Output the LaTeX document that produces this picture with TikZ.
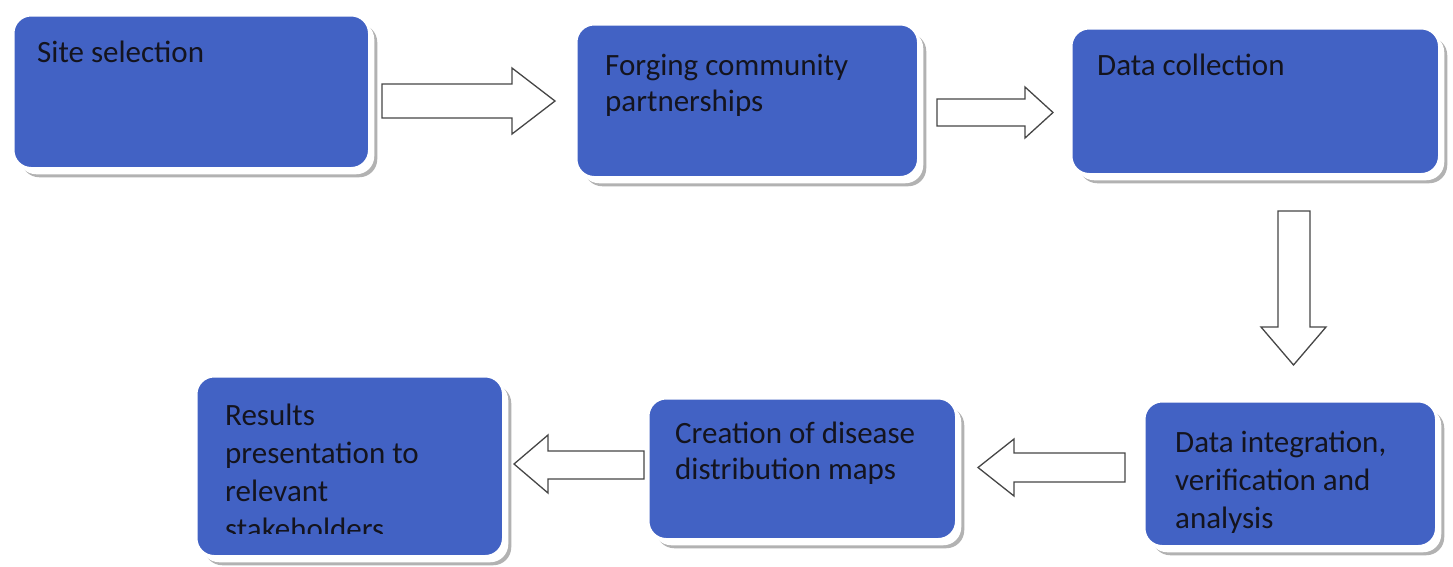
\documentclass[tikz,border=0pt]{standalone}
\usepackage{fontspec}
\setmainfont{Carlito}
\usetikzlibrary{shadows}
\definecolor{boxblue}{RGB}{66,98,196}
\definecolor{arrowline}{RGB}{70,70,70}
\definecolor{textdark}{RGB}{20,20,30}
\newcommand{\steplines}[1]{\parbox[t]{330pt}{\fontsize{31}{38}\selectfont\raggedright #1}}
\begin{document}
\begin{tikzpicture}[x=1pt,y=-1pt,
  stepbox/.style={rounded corners=18pt, fill=boxblue, draw=white, line width=2.5pt,
    anchor=north west, inner sep=0pt,
    general shadow={fill=black!30, shadow xshift=8pt, shadow yshift=-9pt},
    general shadow={fill=white, shadow xshift=5pt, shadow yshift=-6pt}},
  steptext/.style={anchor=base west, inner sep=0pt, text=textdark},
  blockarrow/.style={draw=arrowline, fill=white, line width=1.3pt, line join=miter}]
\useasboundingbox[fill=white] (0,0) rectangle (1453,566);

% boxes
\node[stepbox, minimum width=356pt, minimum height=153pt] (b1) at (12,14) {};
\node[stepbox, minimum width=342pt, minimum height=153pt] (b2) at (575,23) {};
\node[stepbox, minimum width=368pt, minimum height=146pt] (b3) at (1070,27) {};
\node[stepbox, minimum width=292pt, minimum height=145pt] (b4) at (1143,400) {};
\node[stepbox, minimum width=308pt, minimum height=141pt] (b5) at (647,397) {};
\node[stepbox, minimum width=307pt, minimum height=180pt] (b6) at (195,375) {};

% texts
\node[steptext] (t1) at (37,62) {\steplines{Site selection}};
\node[steptext] (t2) at (605,75) {\steplines{Forging community\\[-2pt]partnerships}};
\node[steptext] (t3) at (1097,75) {\steplines{Data collection}};
\node[steptext] (t4) at (1175,452) {\steplines{Data integration,\\verification and\\analysis}};
\node[steptext] (t5) at (675,443) {\steplines{Creation of disease\\[-2pt]distribution maps}};
\begin{scope}
  \clip (195,375) rectangle (502,533);
  \node[steptext] (t6) at (225,425) {\steplines{Results\\presentation to\\relevant\\stakeholders}};
\end{scope}

% block arrows
\draw[blockarrow] (382,84) -- (512,84) -- (512,68) -- (555,101) -- (512,134) -- (512,118) -- (382,118) -- cycle;
\draw[blockarrow] (937,99) -- (1025,99) -- (1025,87) -- (1053,112.5) -- (1025,138) -- (1025,126) -- (937,126) -- cycle;
\draw[blockarrow] (1278,211) -- (1310,211) -- (1310,327) -- (1326,327) -- (1293.5,365) -- (1261,327) -- (1278,327) -- cycle;
\draw[blockarrow] (1125,453) -- (1014,453) -- (1014,439) -- (978,467.5) -- (1014,496) -- (1014,482) -- (1125,482) -- cycle;
\draw[blockarrow] (644,451) -- (548,451) -- (548,435) -- (514,464) -- (548,493) -- (548,479) -- (644,479) -- cycle;
\end{tikzpicture}
\end{document}
